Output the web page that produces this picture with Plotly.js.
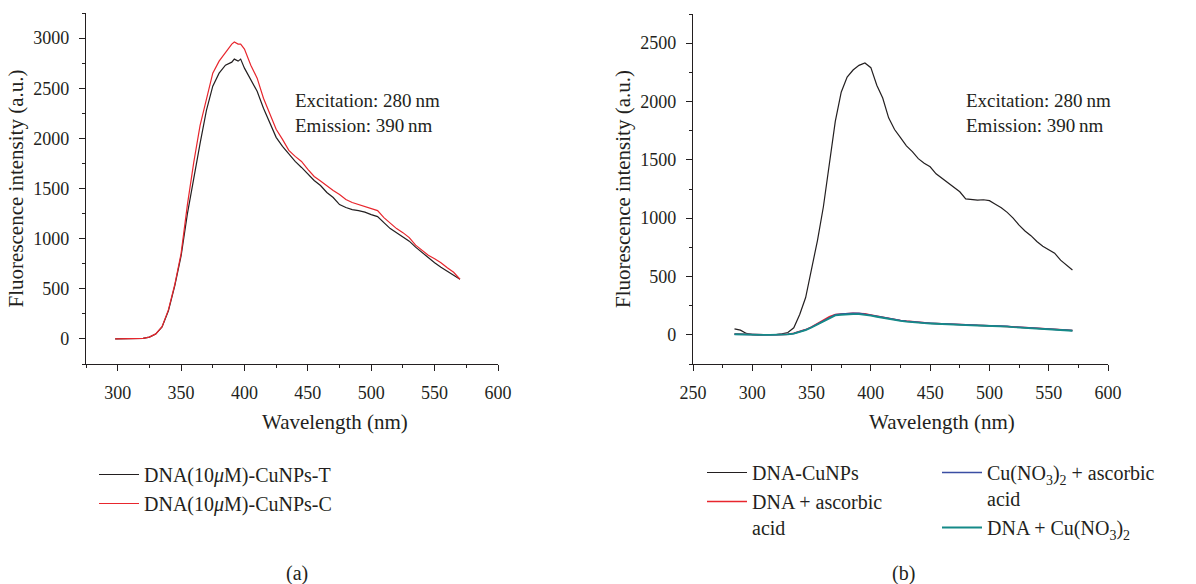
<!DOCTYPE html>
<html>
<head>
<meta charset="utf-8">
<script src="https://cdn.plot.ly/plotly-3.0.1.min.js"></script>
<style>html,body{margin:0;padding:0;background:#fff;}#chart{width:1196px;height:584px;}</style>
</head>
<body>
<div id="chart"></div>
<script>
// ---------- Panel (a) data ----------
const wlA = [298,305,310,315,320,325,330,335,340,345,350,355,360,365,370,375,380,385,390,392,395,397,400,405,410,415,420,425,430,435,440,445,450,455,460,465,470,475,480,485,490,495,500,505,510,515,520,525,530,535,540,545,550,555,560,565,570];
const cuT = [0,0,0,2,6,18,48,120,280,528,827,1250,1620,1950,2280,2520,2650,2730,2760,2790,2770,2790,2700,2590,2470,2300,2150,2010,1920,1840,1770,1710,1640,1580,1530,1460,1410,1340,1310,1290,1280,1265,1240,1220,1160,1100,1060,1020,975,915,860,810,760,715,675,635,595];
const cuC = [0,0,0,2,6,18,50,122,290,540,850,1340,1760,2130,2400,2650,2770,2860,2940,2960,2940,2940,2890,2730,2600,2400,2240,2090,1990,1880,1820,1770,1690,1620,1575,1525,1480,1440,1390,1360,1340,1325,1300,1280,1210,1150,1100,1060,1010,935,885,835,800,760,710,665,595];
const namesA = ["DNA(10<i>\u03bc</i>M)-CuNPs-T","DNA(10<i>\u03bc</i>M)-CuNPs-C"];

// ---------- Panel (b) data ----------
const wlB = [285,290,295,300,305,310,315,320,325,330,335,340,345,350,355,360,365,370,375,380,385,390,395,400,405,410,415,420,425,430,435,440,445,450,455,460,465,470,475,480,485,490,495,500,505,510,515,520,525,530,535,540,545,550,555,560,565,570];
const dnaCu   = [51,40,12,2,0,0,0,3,8,20,60,175,320,560,810,1100,1450,1830,2080,2210,2270,2310,2330,2290,2140,2030,1860,1760,1690,1620,1570,1510,1470,1440,1380,1340,1305,1265,1226,1165,1160,1155,1158,1150,1120,1090,1050,1000,940,890,850,800,760,730,700,640,600,556];
const dnaAsc  = [7,5,2,0,0,0,0,1,2,5,13,27,45,68,96,126,155,174,180,184,186,183,180,170,160,150,140,130,124,118,112,108,104,100,98,96,93,90,88,86,84,83,82,82,79,78,74,69,66,63,59,56,53,50,47,44,41,38];
const cuAsc   = [6,4,2,0,0,0,0,1,2,5,12,26,43,66,93,124,152,172,178,183,185,184,178,169,159,149,139,129,123,117,111,107,103,100,97,95,92,89,87,85,84,82,81,80,78,76,73,68,65,62,58,55,52,49,46,43,40,37];
const dnaCuNO = [5,3,1,0,0,0,0,1,2,4,11,24,40,63,89,119,147,167,172,176,178,177,173,165,155,145,135,126,120,114,108,104,100,97,94,92,89,87,85,83,81,80,79,78,76,74,71,66,63,60,56,53,50,47,44,41,38,35];
const namesB = ["DNA-CuNPs","DNA + ascorbic<br>acid","Cu(NO<sub>3</sub>)<sub>2</sub> + ascorbic<br>acid","DNA + Cu(NO<sub>3</sub>)<sub>2</sub>"];

const FONT = "'Liberation Serif', 'Times New Roman', serif";
const INK = "#231f20";
const W = 1196, H = 584;
const px = v => v / W, py = v => 1 - v / H;

const traces = [
  {x: wlA, y: cuT, type:'scatter', mode:'lines', name:namesA[0], line:{color:INK, width:1.2}, xaxis:'x', yaxis:'y', legend:'legend'},
  {x: wlA, y: cuC, type:'scatter', mode:'lines', name:namesA[1], line:{color:'#e8262d', width:1.2}, xaxis:'x', yaxis:'y', legend:'legend'},
  {x: wlB, y: dnaCu, type:'scatter', mode:'lines', name:namesB[0], line:{color:INK, width:1.2}, xaxis:'x2', yaxis:'y2', legend:'legend2'},
  {x: wlB, y: dnaAsc, type:'scatter', mode:'lines', name:namesB[1], line:{color:'#e8262d', width:1.5}, xaxis:'x2', yaxis:'y2', legend:'legend2'},
  {x: wlB, y: cuAsc, type:'scatter', mode:'lines', name:namesB[2], line:{color:'#3a4ea3', width:1.5}, xaxis:'x2', yaxis:'y2', legend:'legend3'},
  {x: wlB, y: dnaCuNO, type:'scatter', mode:'lines', name:namesB[3], line:{color:'#158a88', width:1.8}, xaxis:'x2', yaxis:'y2', legend:'legend3'}
];

function axis(extra){
  return Object.assign({
    showline:true, linecolor:INK, linewidth:1.2, mirror:false,
    ticks:'outside', ticklen:6, tickwidth:1.2, tickcolor:INK,
    showgrid:false, zeroline:false, fixedrange:true,
    tickfont:{family:FONT, size:18, color:INK}
  }, extra);
}

const legendBase = {xanchor:'left', yanchor:'top', bgcolor:'rgba(0,0,0,0)', borderwidth:0,
  font:{family:FONT, size:20, color:INK}, valign:'top', orientation:'v', itemwidth:40};

const ytitle = {text:'Fluorescence intensity (a.u.)', font:{family:FONT, size:21, color:INK}, standoff:3};

const layout = {
  width:W, height:H, margin:{l:0,r:0,t:0,b:0},
  paper_bgcolor:'#fff', plot_bgcolor:'#fff',
  font:{family:FONT, color:INK, size:18},
  xaxis: axis({domain:[px(86), px(498)], range:[275,600], dtick:50, tick0:0, ticklabelstandoff:6,
    minor:{ticks:'outside', ticklen:3, tickwidth:1, tickcolor:INK, dtick:25}, anchor:'y'}),
  yaxis: axis({domain:[py(364), py(13)], range:[-250,3250], dtick:500, tick0:0, ticklabelstandoff:6,
    minor:{ticks:'outside', ticklen:3, tickwidth:1, tickcolor:INK, dtick:250}, anchor:'x', title:ytitle}),
  xaxis2: axis({domain:[px(693), px(1108)], range:[250,600], dtick:50, tick0:0, ticklabelstandoff:6,
    minor:{ticks:'outside', ticklen:3, tickwidth:1, tickcolor:INK, dtick:25}, anchor:'y2'}),
  yaxis2: axis({domain:[py(364), py(14)], range:[-250,2750], dtick:500, tick0:0, ticklabelstandoff:6,
    minor:{ticks:'outside', ticklen:3, tickwidth:1, tickcolor:INK, dtick:250}, anchor:'x2', title:ytitle}),
  legend: Object.assign({}, legendBase, {x:px(94), y:py(455)}),
  legend2: Object.assign({}, legendBase, {x:px(702), y:py(453)}),
  legend3: Object.assign({}, legendBase, {x:px(937), y:py(453)}),
  annotations: [
    {xref:'paper', yref:'paper', x:px(335), y:py(422), text:'Wavelength (nm)', showarrow:false, xanchor:'center', yanchor:'middle', font:{family:FONT, size:21, color:INK}},
    {xref:'paper', yref:'paper', x:px(942), y:py(422), text:'Wavelength (nm)', showarrow:false, xanchor:'center', yanchor:'middle', font:{family:FONT, size:21, color:INK}},
    {xref:'paper', yref:'paper', x:px(293), y:py(113), text:'Excitation: 280\u2009nm<br>Emission: 390\u2009nm', align:'left', showarrow:false, xanchor:'left', yanchor:'middle', font:{family:FONT, size:19, color:INK}},
    {xref:'paper', yref:'paper', x:px(964), y:py(113), text:'Excitation: 280\u2009nm<br>Emission: 390\u2009nm', align:'left', showarrow:false, xanchor:'left', yanchor:'middle', font:{family:FONT, size:19, color:INK}},
    {xref:'paper', yref:'paper', x:px(297), y:py(573), text:'(a)', showarrow:false, xanchor:'center', yanchor:'middle', font:{family:FONT, size:20, color:INK}},
    {xref:'paper', yref:'paper', x:px(903), y:py(573), text:'(b)', showarrow:false, xanchor:'center', yanchor:'middle', font:{family:FONT, size:20, color:INK}}
  ]
};

Plotly.newPlot('chart', traces, layout, {displayModeBar:false});
</script>
</body>
</html>
